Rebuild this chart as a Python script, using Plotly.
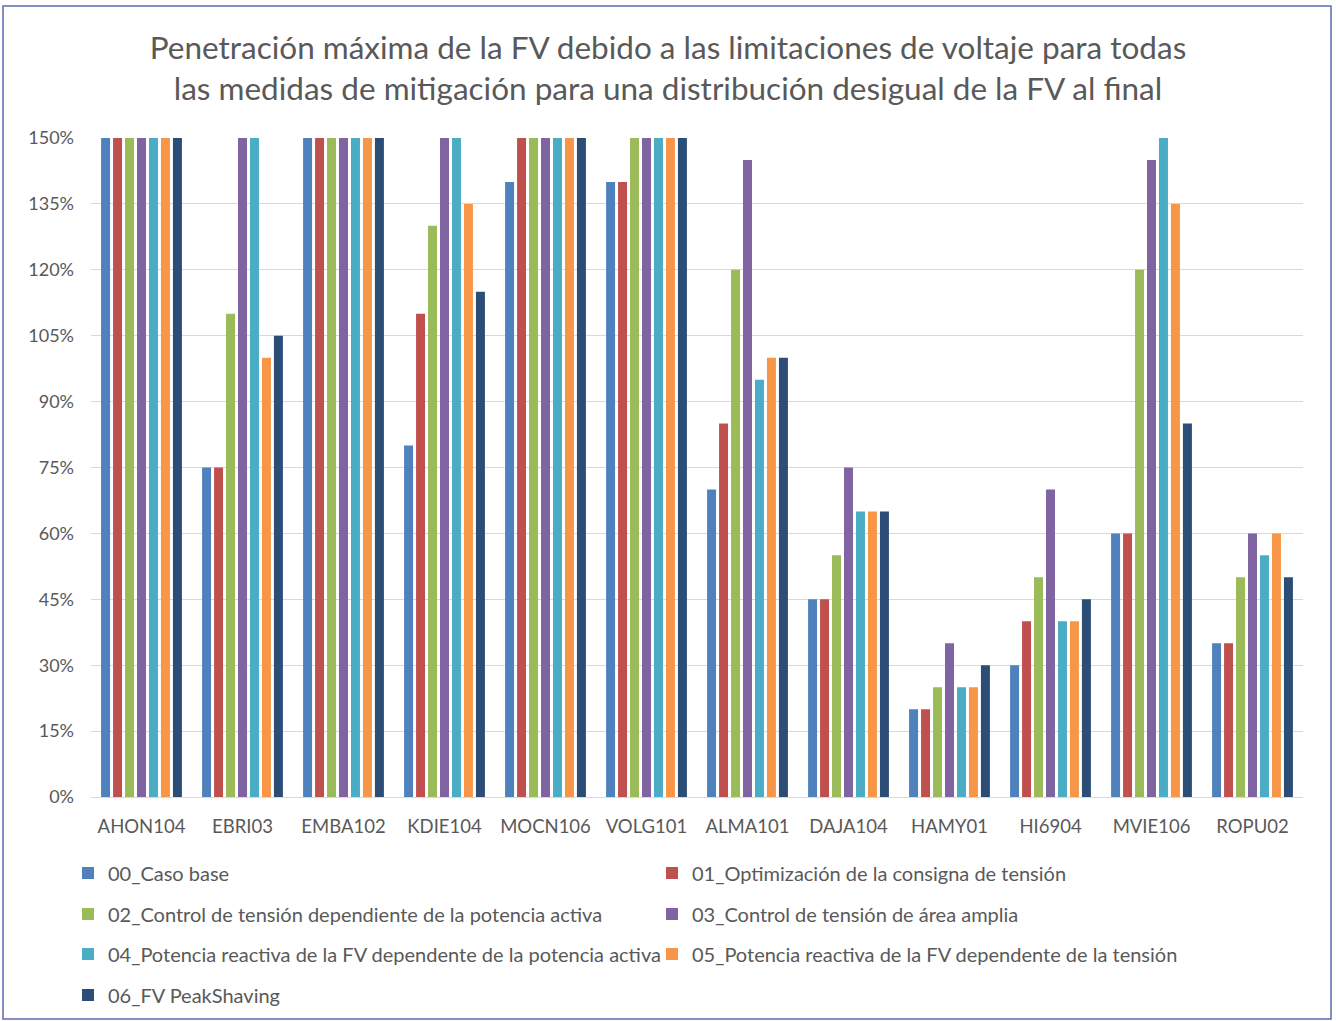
import plotly.graph_objects as go

categories = ["AHON104", "EBRI03", "EMBA102", "KDIE104", "MOCN106", "VOLG101",
              "ALMA101", "DAJA104", "HAMY01", "HI6904", "MVIE106", "ROPU02"]

series_names = [
    "00_Caso base",
    "01_Optimización de la consigna de tensión",
    "02_Control de tensión dependiente de la potencia activa",
    "03_Control de tensión de área amplia",
    "04_Potencia reactiva de la FV dependente de la potencia activa",
    "05_Potencia reactiva de la FV dependente de la tensión",
    "06_FV PeakShaving",
]

s00 = [150, 75, 150, 80, 140, 140, 70, 45, 20, 30, 60, 35]
s01 = [150, 75, 150, 110, 150, 140, 85, 45, 20, 40, 60, 35]
s02 = [150, 110, 150, 130, 150, 150, 120, 55, 25, 50, 120, 50]
s03 = [150, 150, 150, 150, 150, 150, 145, 75, 35, 70, 145, 60]
s04 = [150, 150, 150, 150, 150, 150, 95, 65, 25, 40, 150, 55]
s05 = [150, 100, 150, 135, 150, 150, 100, 65, 25, 40, 135, 60]
s06 = [150, 105, 150, 115, 150, 150, 100, 65, 30, 45, 85, 50]

y_ticks = [0, 15, 30, 45, 60, 75, 90, 105, 120, 135, 150]
y_tick_labels = [f"{v}%" for v in y_ticks]

colors = ["#4F81BD", "#C0504D", "#9BBB59", "#8064A2", "#4BACC6", "#F79646", "#2C4D75"]

W, H = 1336, 1021
ML, MR, MT, MB = 91, 33, 138, 224
PW, PH = W - ML - MR, H - MT - MB

FONT = "Lato"
GRAY = "#595959"

legend_ids = ["legend"] + [f"legend{i}" for i in range(2, 8)]
# legend placement (pixels from top-left): two columns, four rows
leg_cols = [68, 652]
leg_rows = [873, 914, 954, 995]

fig = go.Figure()
for name, vals, col, lg in zip(series_names, [s00, s01, s02, s03, s04, s05, s06], colors, legend_ids):
    fig.add_trace(go.Bar(x=categories, y=vals, name=name, marker=dict(color=col, line=dict(width=0)),
                         legend=lg))

def px_x(p):
    return (p - ML) / PW

def px_y(p):
    return (H - p - MB) / PH

legend_common = dict(orientation="h", xref="container", yref="container", xanchor="left", yanchor="middle",
                     bgcolor="rgba(0,0,0,0)", font=dict(family=FONT, size=20, color=GRAY))
legend_layout = {}
for i, lg in enumerate(legend_ids):
    cx = leg_cols[i % 2]
    cy = leg_rows[i // 2]
    legend_layout[lg] = dict(x=cx / W, y=1 - cy / H, **legend_common)

fig.update_layout(
    width=W, height=H,
    margin=dict(l=ML, r=MR, t=MT, b=MB),
    paper_bgcolor="white", plot_bgcolor="white",
    font=dict(family=FONT, color=GRAY),
    title=dict(text="Penetración máxima de la FV debido a las limitaciones de voltaje para todas<br>"
                    "las medidas de mitigación para una distribución desigual de la FV al final",
               x=0.5, xref="container", xanchor="center", y=1 - 59 / H, yref="container", yanchor="middle",
               font=dict(family=FONT, size=31.5, color=GRAY)),
    barmode="group", bargap=0.17, bargroupgap=0.25,
    xaxis=dict(showgrid=False, showline=True, linecolor="#D9D9D9", linewidth=1, ticks="",
               tickfont=dict(family=FONT, size=18.5, color=GRAY), ticklabelstandoff=13),
    yaxis=dict(range=[0, 150], tickmode="array", tickvals=y_ticks, ticktext=y_tick_labels,
               showgrid=True, gridcolor="#D9D9D9", gridwidth=1, zeroline=False, showline=False, ticks="",
               tickfont=dict(family=FONT, size=18, color=GRAY), ticklabelstandoff=16),
    showlegend=True,
    **legend_layout,
)

fig.add_shape(type="rect", xref="paper", yref="paper",
              x0=px_x(3), x1=px_x(1331), y0=px_y(1019), y1=px_y(6),
              line=dict(color="#5C6BB0", width=1.5), fillcolor="rgba(0,0,0,0)", layer="below")

fig.write_html("out.html", config={"displayModeBar": False},
               post_script="document.body.style.margin='0px';")
